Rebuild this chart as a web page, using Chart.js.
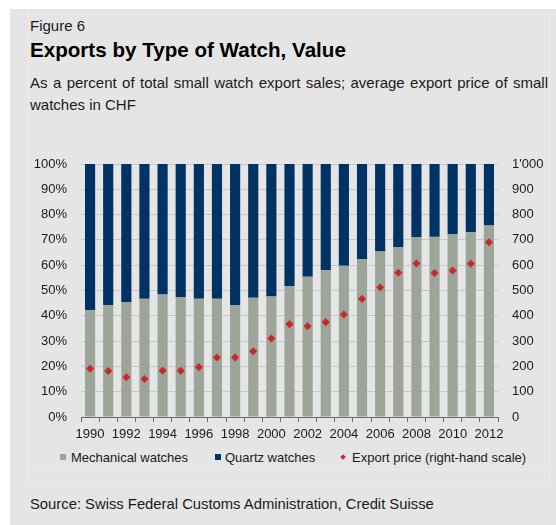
<!DOCTYPE html>
<html>
<head>
<meta charset="utf-8">
<script src="https://cdn.jsdelivr.net/npm/chart.js@4/dist/chart.umd.min.js"></script>
<style>
html,body{margin:0;padding:0;background:#ffffff;}
body{width:556px;height:525px;position:relative;overflow:hidden;font-family:"Liberation Sans",Arial,Helvetica,sans-serif;color:#1a1a1a;}
#panel{position:absolute;left:10px;top:9px;width:546px;height:516px;background:#e5e5e5;}
.ln{position:absolute;background:#ececec;}
.t{position:absolute;white-space:nowrap;}
#fig{left:30px;top:18px;font-size:15px;line-height:15px;}
#title{left:30px;top:40px;font-size:20.6px;line-height:20px;font-weight:bold;color:#000;}
#sub1{left:30px;top:75px;width:518px;font-size:15px;line-height:15px;text-align:justify;text-align-last:justify;white-space:normal;}
#sub2{left:30px;top:97px;font-size:15px;line-height:15px;}
#source{left:30px;top:497px;font-size:14.8px;line-height:15px;}
.lg{position:absolute;font-size:13px;line-height:13px;top:451px;white-space:nowrap;color:#1a1a1a;}
.sw{position:absolute;width:6px;height:6px;top:454px;}
.dm{position:absolute;width:4px;height:4px;top:455px;transform:rotate(45deg);background:#c8282d;}
#c{position:absolute;left:0;top:0;}
</style>
</head>
<body>
<div id="panel"></div>
<div class="ln" style="left:28px;top:9px;width:1px;height:474px;"></div>
<div class="ln" style="left:549px;top:9px;width:1px;height:474px;"></div>
<div class="ln" style="left:28px;top:469px;width:521px;height:1px;"></div>
<div class="ln" style="left:28px;top:483px;width:521px;height:1px;"></div>

<div class="t" id="fig">Figure 6</div>
<div class="t" id="title">Exports by Type of Watch, Value</div>
<div class="t" id="sub1">As a percent of total small watch export sales; average export price of small</div>
<div class="t" id="sub2">watches in CHF</div>

<div class="sw" style="left:60px;background:#9da59a;"></div>
<div class="lg" style="left:71px;">Mechanical watches</div>
<div class="sw" style="left:215px;background:#003263;"></div>
<div class="lg" style="left:225px;">Quartz watches</div>
<div class="dm" style="left:341px;"></div>
<div class="lg" style="left:352px;">Export price (right-hand scale)</div>

<div class="t" id="source">Source: Swiss Federal Customs Administration, Credit Suisse</div>

<canvas id="c" width="556" height="525"></canvas>

<script>
// ---- Data ----
const years = ['1990','1991','1992','1993','1994','1995','1996','1997','1998','1999','2000','2001','2002','2003','2004','2005','2006','2007','2008','2009','2010','2011','2012'];
const mechanicalShare = [42.2,44.2,45.4,46.7,48.4,47.4,46.7,46.7,44.3,47.1,47.6,51.8,55.4,58.0,59.8,62.5,65.4,67.2,71.0,71.2,72.2,73.1,75.7];
const quartzShare = [57.8,55.8,54.6,53.3,51.6,52.6,53.3,53.3,55.7,52.9,52.4,48.2,44.6,42.0,40.2,37.5,34.6,32.8,29.0,28.8,27.8,26.9,24.3];
const exportPrice = [191,182,157,150,183,183,197,235,235,260,310,367,359,375,405,467,512,570,607,569,579,606,691];
const leftTickLabels = ['0%','10%','20%','30%','40%','50%','60%','70%','80%','90%','100%'];
const rightTickLabels = ['0','100','200','300','400','500','600','700','800','900',"1'000"];

Chart.defaults.font.family = '"Liberation Sans", Arial, Helvetica, sans-serif';
Chart.defaults.font.size = 13;
Chart.defaults.color = '#222222';

new Chart(document.getElementById('c'), {
  type: 'bar',
  data: {
    labels: years,
    datasets: [
      {
        type: 'line',
        label: 'Export price (right-hand scale)',
        data: exportPrice,
        yAxisID: 'y2',
        showLine: false,
        pointStyle: 'rectRot',
        pointRadius: 3.8,
        pointBackgroundColor: '#c8282d',
        pointBorderColor: '#c8282d',
        pointBorderWidth: 0.5,
        order: 0
      },
      {
        label: 'Mechanical watches',
        data: mechanicalShare,
        backgroundColor: '#9da59a',
        yAxisID: 'y',
        stack: 's',
        barPercentage: 0.56,
        categoryPercentage: 1.0,
        order: 1
      },
      {
        label: 'Quartz watches',
        data: quartzShare,
        backgroundColor: '#003263',
        yAxisID: 'y',
        stack: 's',
        barPercentage: 0.56,
        categoryPercentage: 1.0,
        order: 2
      }
    ]
  },
  options: {
    responsive: false,
    animation: false,
    devicePixelRatio: 1,
    layout: { padding: { top: 164, bottom: 78, left: 0, right: 0 } },
    plugins: { legend: { display: false }, tooltip: { enabled: false } },
    scales: {
      x: {
        stacked: true,
        grid: { offset: true, drawOnChartArea: false, drawTicks: true, tickLength: 5, color: '#6a6a6a' },
        border: { display: true, color: '#6a6a6a', width: 1 },
        ticks: {
          autoSkip: false,
          maxRotation: 0,
          padding: 5,
          color: '#1a1a1a',
          callback: function(v, i) { return i % 2 === 0 ? years[i] : ''; }
        },
        afterFit: function(s) { s.height = 30; }
      },
      y: {
        stacked: true,
        position: 'left',
        min: 0, max: 100,
        ticks: { stepSize: 10, padding: 14, color: '#1a1a1a',
          callback: function(v) { return leftTickLabels[Math.round(v / 10)]; } },
        grid: { color: '#c9c9c9', drawTicks: false, lineWidth: 1 },
        border: { display: false },
        afterFit: function(s) { s.width = 81; }
      },
      y2: {
        position: 'right',
        min: 0, max: 1000,
        ticks: { stepSize: 100, padding: 14, color: '#1a1a1a',
          callback: function(v) { return rightTickLabels[Math.round(v / 100)]; } },
        grid: { drawOnChartArea: false, drawTicks: false },
        border: { display: false },
        afterFit: function(s) { s.width = 58; }
      }
    }
  }
});
</script>
</body>
</html>
